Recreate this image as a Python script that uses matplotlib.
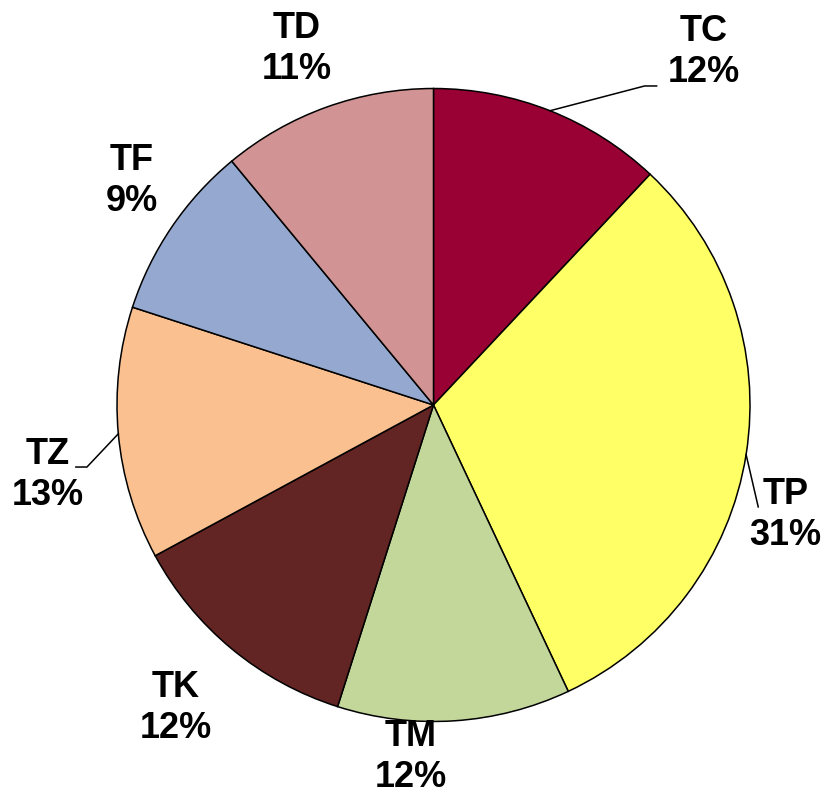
import numpy as np
import matplotlib.pyplot as plt

# sector data
names = ['TC', 'TP', 'TM', 'TK', 'TZ', 'TF', 'TD']
shares = [12.0, 31.0, 11.9, 12.2, 12.9, 9.0, 11.0]
pct_labels = ['12%', '31%', '12%', '12%', '13%', '9%', '11%']
colors = ['#990033', '#FFFF66', '#C4D79B', '#632523', '#FAC090', '#95A9D0', '#D19393']

# label placement (layout only, pie radius = 1)
label_pos = {
    'TC': (0.855, 1.115), 'TP': (1.111, -0.348), 'TM': (-0.071, -1.112),
    'TK': (-0.814, -0.957), 'TZ': (-1.218, -0.221), 'TF': (-0.953, 0.708),
    'TD': (-0.431, 1.125),
}
# leader line bends for labels sitting away from their wedge
leaders = {
    'TC': [(0.667, 1.008), (0.705, 1.008)],
    'TP': [(1.026, -0.322)],
    'TZ': [(-1.095, -0.196), (-1.130, -0.196)],
}

plt.rcParams['font.family'] = ['Liberation Sans', 'DejaVu Sans']

fig = plt.figure(figsize=(8.27, 7.98), dpi=100)
ax = fig.add_axes([0, 0, 1, 1])

wedges, _ = ax.pie(shares, colors=colors, startangle=90, counterclock=False,
                   radius=1.0, wedgeprops={'edgecolor': 'black', 'linewidth': 1.1})

for w, name, pct in zip(wedges, names, pct_labels):
    x, y = label_pos[name]
    ax.text(x, y, name + '\n' + pct, ha='center', va='center', fontsize=26,
            fontweight='bold', linespacing=1.2)
    if name in leaders:
        mid = np.deg2rad((w.theta1 + w.theta2) / 2)
        pts = [(np.cos(mid), np.sin(mid))] + leaders[name]
        xs, ys = zip(*pts)
        ax.plot(xs, ys, color='black', linewidth=1.1)

ax.set_xlim(-1.3697, 1.2433)
ax.set_ylim(-1.2417, 1.2796)
ax.set_aspect('equal', adjustable='box')
ax.axis('off')

fig.savefig('out.png', dpi=100)
